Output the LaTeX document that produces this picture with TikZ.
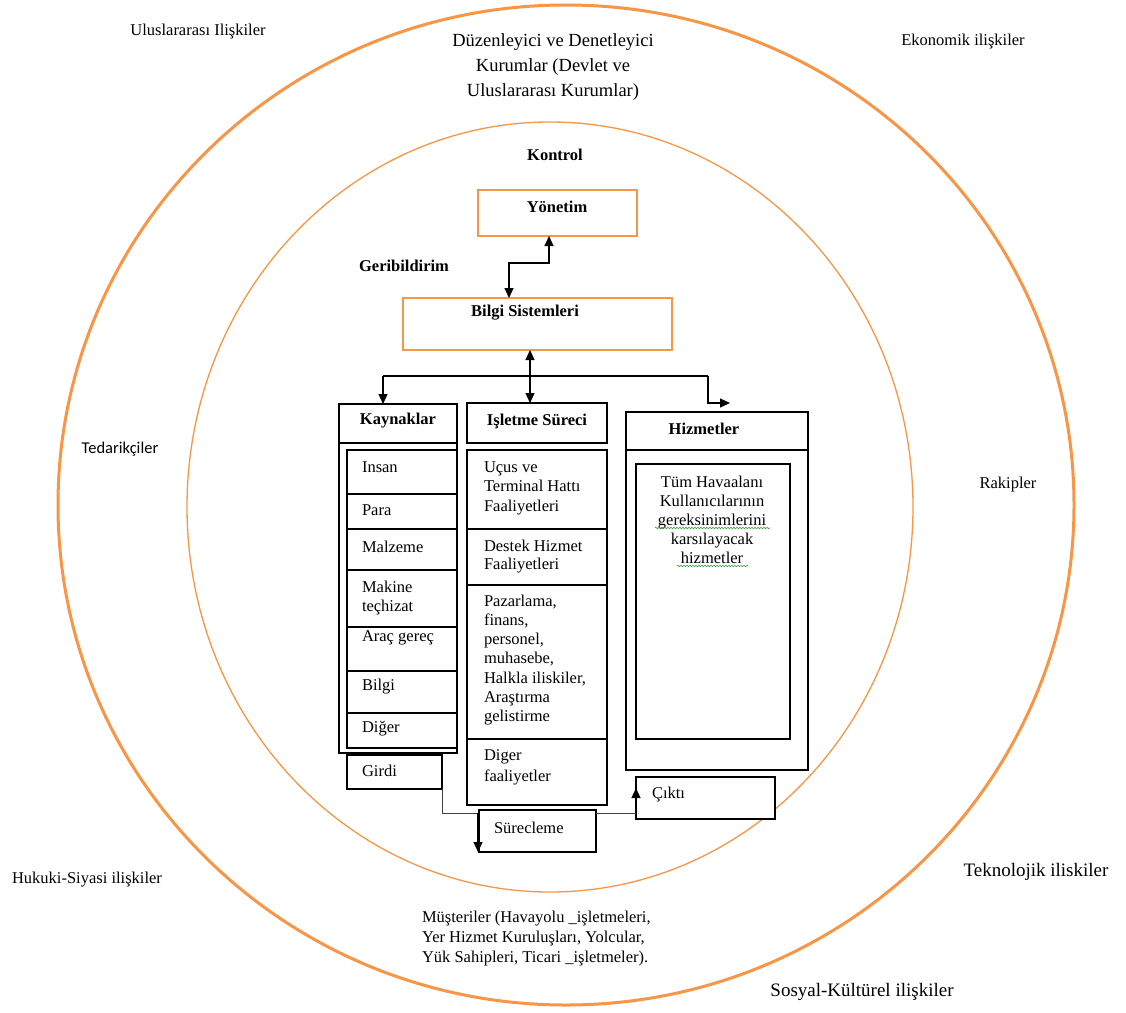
\documentclass[tikz,border=0pt]{standalone}
\usepackage{fontspec}
\setmainfont{Liberation Serif}
\newfontfamily\calib{Carlito}
\usetikzlibrary{arrows.meta,fit,decorations.pathmorphing}
\definecolor{orng}{HTML}{F79646}
\definecolor{squig}{HTML}{3FA03F}
\begin{document}
\begin{tikzpicture}[x=1pt,y=-1pt,
  every node/.style={inner sep=0pt,outer sep=0pt},
  bx/.style={draw=black,line width=1.1pt,fill=white,inner sep=0pt},
  obx/.style={draw=orng,line width=1.4pt,fill=white,inner sep=0pt},
  ln/.style={draw=black,line width=1.1pt},
  tx/.style={font=\fontsize{16.5}{19.5}\selectfont},
  tb/.style={font=\fontsize{16.5}{19.5}\selectfont\bfseries},
  tip/.style={-{Triangle[length=10pt,width=9pt]}},
  dbl/.style={{Triangle[length=10pt,width=9pt]}-{Triangle[length=10pt,width=9pt]},line width=1.2pt},
  con/.style={line width=1.2pt},
  wavy/.style={draw=squig,line width=0.6pt,decorate,decoration={snake,amplitude=0.8pt,segment length=3pt}}
]
\useasboundingbox (0,0) rectangle (1126,1012);
\fill[white] (0,0) rectangle (1126,1012);

% circles
\draw[orng,line width=3pt] (566,505) ellipse [x radius=508pt,y radius=500pt];
\draw[orng,line width=1.3pt] (550,507) ellipse [x radius=363pt,y radius=385pt];

% outer labels
\node[tx] (t-ulus) at (198,32) {Uluslararası Ilişkiler};
\node[tx] (t-eko) at (963,42) {Ekonomik ilişkiler};
\node[font=\fontsize{18.5}{25}\selectfont,align=center] (t-duz) at (553,67) {Düzenleyici ve Denetleyici\\Kurumlar (Devlet ve\\Uluslararası Kurumlar)};
\node[font=\calib\fontsize{16.5}{20}\selectfont] (t-ted) at (120,449) {Tedarikçiler};
\node[tx] (t-rak) at (1008,485) {Rakipler};
\node[tx] (t-huk) at (87,880) {Hukuki-Siyasi ilişkiler};
\node[font=\fontsize{19}{22}\selectfont] (t-tek) at (1036,872) {Teknolojik iliskiler};
\node[font=\fontsize{19}{22}\selectfont] (t-sos) at (862,992) {Sosyal-Kültürel ilişkiler};
\node[font=\fontsize{16.5}{20}\selectfont,align=left,anchor=west] (t-mus) at (422,939) {Müşteriler (Havayolu \_işletmeleri,\\Yer Hizmet Kuruluşları, Yolcular,\\Yük Sahipleri, Ticari \_işletmeler).};

\node[tb] (t-kon) at (555,155) {Kontrol};
\node[tb] (t-ger) at (404,266) {Geribildirim};

% Yonetim and Bilgi Sistemleri
\node[obx,fit={(478,190)(637,236)}] (yon) {};
\node[tb] (yon-t) at (557,207) {Yönetim};
\node[obx,fit={(403,298)(672,350)}] (bil) {};
\node[tb] (bil-t) at (525,313) {Bilgi Sistemleri};

% Kaynaklar
\node[bx,fit={(339,404)(457,753)}] (kay) {};
\draw[ln] (339,443) -- (457,443);
\node[tb] (kay-t) at (398,421) {Kaynaklar};
\node[bx,fit={(347,450)(457,748)}] (kayin) {};
\foreach \yy in {494,529,570,627,671,713} \draw[ln] (347,\yy) -- (457,\yy);
\node[tx,anchor=west] (k1) at (362,467) {Insan};
\node[tx,anchor=west] (k2) at (362,510) {Para};
\node[tx,anchor=west] (k3) at (362,547) {Malzeme};
\node[tx,anchor=west,align=left] (k4) at (362,598) {Makine\\teçhizat};
\node[tx,anchor=west] (k5) at (362,638) {Araç gereç};
\node[tx,anchor=west] (k6) at (362,687) {Bilgi};
\node[tx,anchor=west] (k7) at (362,729) {Diğer};
\node[bx,fit={(347,755)(442,789)}] (gir) {};
\node[tx,anchor=west] (gir-t) at (362,771) {Girdi};

% Isletme Sureci
\node[bx,fit={(467,403)(607,443)}] (islh) {};
\node[tb] (islh-t) at (537,421) {Işletme Süreci};
\node[bx,fit={(467,450)(607,805)}] (isl) {};
\foreach \yy in {529,585,739} \draw[ln] (467,\yy) -- (607,\yy);
\node[tx,anchor=west,align=left] (i1) at (484,488) {Uçus ve\\Terminal Hattı\\Faaliyetleri};
\node[tx,anchor=west,align=left,font=\fontsize{16.5}{17.5}\selectfont] (i2) at (484,556.5) {Destek Hizmet\\Faaliyetleri};
\node[tx,anchor=west,align=left,font=\fontsize{16.5}{19.2}\selectfont] (i3) at (484,660) {Pazarlama,\\finans,\\personel,\\muhasebe,\\Halkla iliskiler,\\Araştırma\\gelistirme};
\node[tx,anchor=west,align=left,font=\fontsize{16.5}{21}\selectfont] (i4) at (484,767) {Diger\\faaliyetler};

% Hizmetler
\node[bx,fit={(626,412)(808,770)}] (hiz) {};
\draw[ln] (626,450) -- (808,450);
\node[tb] (hiz-t) at (704,429) {Hizmetler};
\node[bx,fit={(636,464)(790,739)}] (hizin) {};
\node[tx,align=center,font=\fontsize{16.5}{19}\selectfont] (hiz-x) at (712,520) {Tüm Havaalanı\\Kullanıcılarının\\gereksinimlerini\\karsılayacak\\hizmetler};
\draw[wavy] (655,528) -- (770,528);
\draw[wavy] (677,566) -- (748,566);

% Cikti and Surecleme
\node[bx,fit={(636,777)(775,819)}] (cik) {};
\node[tx,anchor=west] (cik-t) at (652,795) {Çıktı};
\node[bx,fit={(479,810)(596,852)}] (sur) {};
\node[tx,anchor=west] (sur-t) at (494,828) {Sürecleme};

% connectors
\coordinate (a1) at (549,263);
\coordinate (a2) at (509,298);
\draw[dbl] (yon.south -| a1) -- (a1) -| (bil.north -| a2);
\coordinate (a3) at (530,376);
\draw[dbl] (bil.south -| a3) -- (islh.north -| a3);
\coordinate (hl) at (383,376);
\coordinate (hr) at (708,376);
\coordinate (hz) at (730,403);
\draw[con] (hl) -- (hr);
\draw[con,tip] (hl) -- (kay.north -| hl);
\draw[con,tip] (hr) |- (hz);
\coordinate (c1) at (478,813);
\coordinate (c2) at (478,852);
\draw[line width=1pt,draw=black!75] (gir.south east) |- (c1);
\draw[con,tip] (c1) -- (c2);
\coordinate (c3) at (636,813);
\coordinate (c4) at (636,788);
\draw[line width=1pt,draw=black!75] (sur.north east |- c3) -- (c3);
\draw[con,tip] (c3) -- (c4);
\end{tikzpicture}
\end{document}
